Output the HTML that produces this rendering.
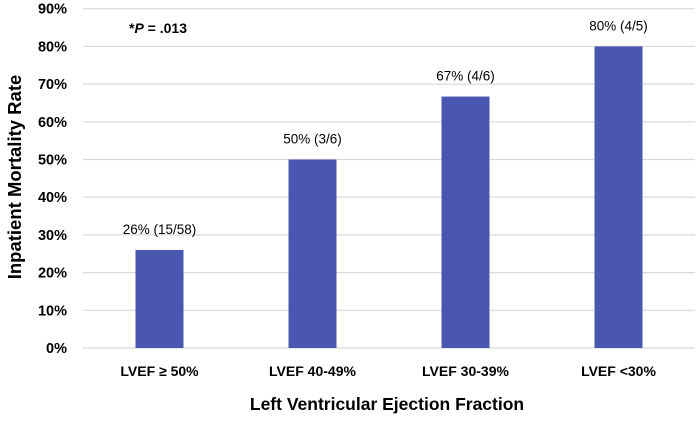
<!DOCTYPE html>
<html><head><meta charset="utf-8"><style>
body{margin:0;background:#fff;}
svg text{font-family:"Liberation Sans",sans-serif;}
</style></head><body>
<svg id="chart" width="700" height="417">
<g id="grid"></g><g id="bars"></g><g id="labels"></g>
<text x="129" y="33" font-size="14" font-weight="bold" fill="#000">*<tspan font-style="italic">P</tspan> = .013</text>
<text transform="translate(21,177) rotate(-90)" text-anchor="middle" font-size="18.5" font-weight="bold" fill="#000">Inpatient Mortality Rate</text>
<text x="387" y="410" text-anchor="middle" font-size="17.5" font-weight="bold" fill="#000">Left Ventricular Ejection Fraction</text>
</svg>
<script>
const categories=["LVEF \u2265 50%","LVEF 40-49%","LVEF 30-39%","LVEF <30%"];
const values=[26,50,66.7,80];
const valueLabels=["26% (15/58)","50% (3/6)","67% (4/6)","80% (4/5)"];
const yTicks=[0,10,20,30,40,50,60,70,80,90];
const NS="http://www.w3.org/2000/svg";
const left=83,right=695,y0=348,yStep=37.7;
const y=v=>y0-v/10*yStep;
const band=(right-left)/categories.length;
const xc=i=>left+band*(i+0.5);
const mk=(tag,attrs,parent)=>{const e=document.createElementNS(NS,tag);for(const k in attrs)e.setAttribute(k,attrs[k]);parent.appendChild(e);return e;};
const grid=document.getElementById('grid'),bars=document.getElementById('bars'),labels=document.getElementById('labels');
yTicks.forEach(t=>{
 const l=mk('line',{x1:left,x2:right,y1:y(t),y2:y(t),stroke:'#d9d9d9','stroke-width':1.2},grid);
 
 
 const tx=mk('text',{x:67,y:y(t)+5,'text-anchor':'end','font-size':14.5,'font-weight':'bold',fill:'#000'},labels);
 tx.textContent=t+'%';
 
 
});
categories.forEach((c,i)=>{
 const w=48;
 const r=mk('rect',{x:xc(i)-w/2,y:y(values[i]),width:w,height:y0-y(values[i]),fill:'#4A57B1'},bars);
 
 
 const vl=mk('text',{x:xc(i),y:y(values[i])-16,'text-anchor':'middle','font-size':13.5,fill:'#000'},labels);
 vl.textContent=valueLabels[i];
 
 
 const cl=mk('text',{x:xc(i),y:376,'text-anchor':'middle','font-size':14,'font-weight':'bold',fill:'#000'},labels);
 cl.textContent=c;
 
 
});
</script>
</body></html>
